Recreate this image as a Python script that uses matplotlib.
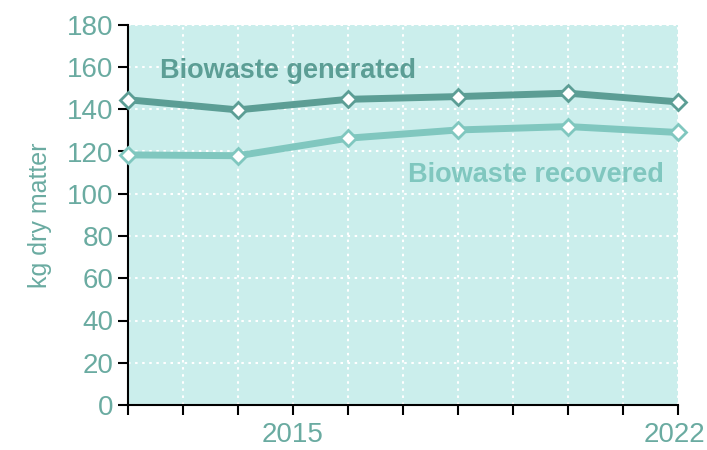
import matplotlib.pyplot as plt
import matplotlib.transforms as mtransforms

plt.rcParams['font.family'] = ['Liberation Sans', 'DejaVu Sans']

years = [2012, 2014, 2016, 2018, 2020, 2022]
generated = [144.5, 139.7, 144.7, 146.0, 147.6, 143.5]
recovered = [118.4, 118.0, 126.3, 130.2, 131.8, 129.0]
tick_years = list(range(2012, 2023))
tick_labels = ['2015' if y == 2015 else '2022' if y == 2022 else '' for y in tick_years]

bg = '#cbeeec'
c_gen = '#5c9e95'
c_rec = '#80c7bf'
c_txt = '#6aaba1'

fig = plt.figure(figsize=(7.07, 4.5), dpi=100)
ax = fig.add_axes([0.181, 0.1, 0.778, 0.845])
ax.set_facecolor(bg)

ax.plot(years, generated, color=c_gen, lw=5, marker='D', ms=8,
        mfc='white', mec=c_gen, mew=2, zorder=3, clip_on=False)
ax.plot(years, recovered, color=c_rec, lw=5, marker='D', ms=8,
        mfc='white', mec=c_rec, mew=2, zorder=3, clip_on=False)

ax.text(2012.58, 158, 'Biowaste generated', color=c_gen, fontsize=19.5,
        fontweight='bold', va='center', ha='left')
ax.text(2021.75, 109, 'Biowaste recovered', color=c_rec, fontsize=19.5,
        fontweight='bold', va='center', ha='right')

ax.set_xlim(2012, 2022)
ax.set_ylim(0, 180)
ax.set_yticks(range(0, 181, 20))
ax.set_xticks(tick_years)
ax.set_xticklabels(tick_labels)
ax.grid(True, color='white', ls=(0, (1.2, 2.2)), lw=1.5)
ax.set_axisbelow(True)

for s in ['top', 'right']:
    ax.spines[s].set_visible(False)
for s in ['left', 'bottom']:
    ax.spines[s].set_color('black')
    ax.spines[s].set_linewidth(1.5)

ax.tick_params(axis='both', direction='out', length=7, width=1.5,
               colors='black', labelcolor=c_txt, labelsize=20)
ax.tick_params(axis='x', pad=5)
ax.set_ylabel('kg dry matter', color=c_txt, fontsize=18, labelpad=11)

# keep the last year label inside the canvas
last = ax.get_xticklabels()[-1]
last.set_transform(last.get_transform() +
                   mtransforms.ScaledTranslation(-4 / 100, 0, fig.dpi_scale_trans))

fig.savefig('out.png', dpi=100)
